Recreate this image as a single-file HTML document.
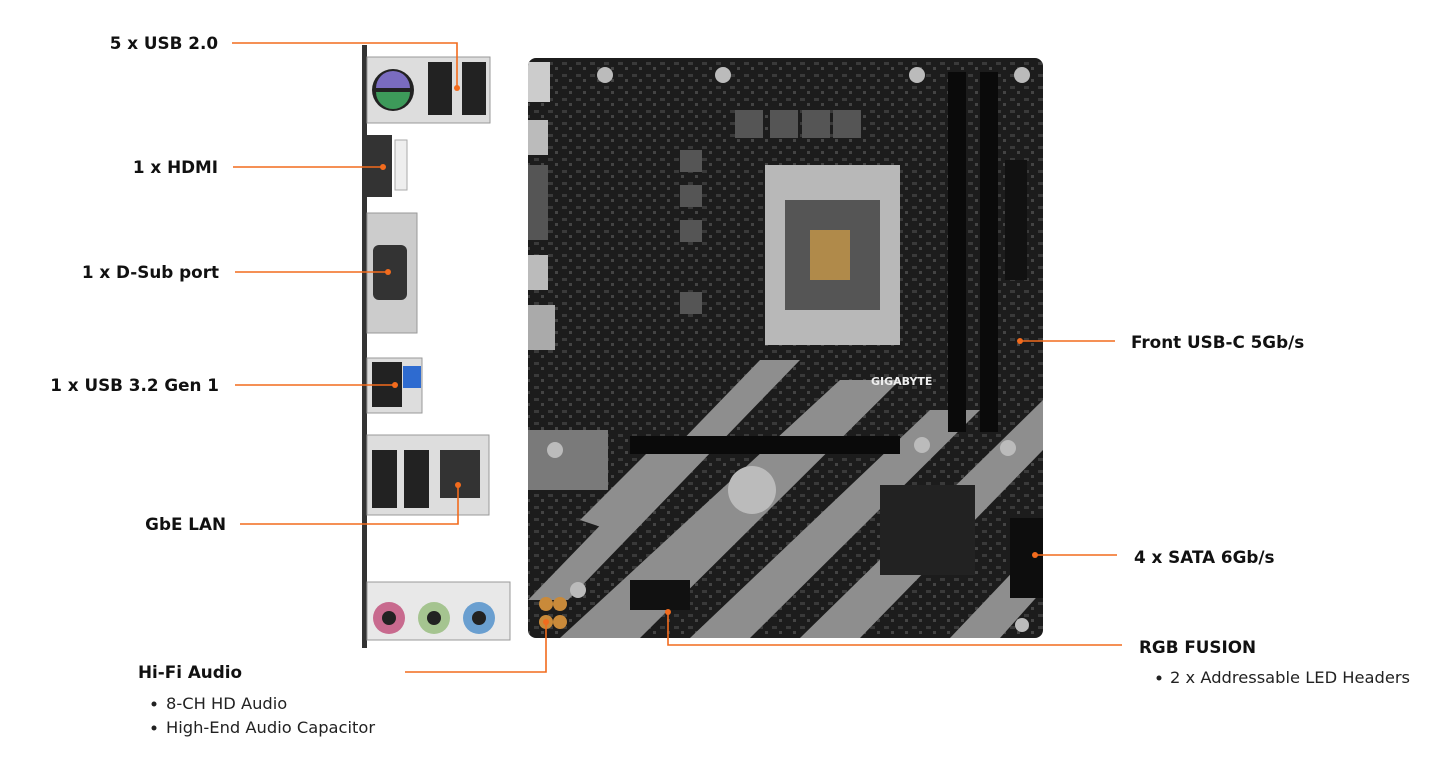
<!DOCTYPE html>
<html><head><meta charset="utf-8"><style>
html,body{margin:0;padding:0;background:#fff;width:1441px;height:770px;overflow:hidden}
svg{display:block}
text{font-family:"DejaVu Sans",sans-serif}
.lb{font-weight:bold;font-size:16.8px;fill:#111}
.sm{font-size:16.3px;fill:#222}
.o{stroke:#f26b1d;stroke-width:1.6;fill:none}
</style></head><body>
<svg width="1441" height="770" viewBox="0 0 1441 770">
<defs>
<clipPath id="bd"><rect x="528" y="58" width="515" height="580" rx="8"/></clipPath>
<pattern id="dots" width="14" height="12" patternUnits="userSpaceOnUse"><rect x="2" y="2" width="5" height="3" fill="#3a3a3a"/><rect x="9" y="7" width="3" height="3" fill="#444"/></pattern>
</defs>
<!-- IO shield -->
<rect x="362" y="45" width="5" height="603" fill="#333"/>
<rect x="367" y="57" width="123" height="66" fill="#ddd" stroke="#999"/>
<circle cx="393" cy="90" r="21" fill="#222"/>
<path d="M376 88 a17 17 0 0 1 34 0z" fill="#7a6cc0"/><path d="M376 92 a17 17 0 0 0 34 0z" fill="#3d9a5a"/>
<rect x="428" y="62" width="24" height="53" fill="#222"/><rect x="462" y="62" width="24" height="53" fill="#222"/>
<rect x="367" y="135" width="25" height="62" fill="#333"/><rect x="395" y="140" width="12" height="50" fill="#eee" stroke="#aaa"/>
<rect x="367" y="213" width="50" height="120" fill="#ccc" stroke="#999"/>
<rect x="373" y="245" width="34" height="55" rx="6" fill="#333"/>
<rect x="367" y="358" width="55" height="55" fill="#ddd" stroke="#999"/>
<rect x="372" y="362" width="30" height="45" fill="#222"/><rect x="403" y="366" width="18" height="22" fill="#2e6bd0"/>
<rect x="367" y="435" width="122" height="80" fill="#ddd" stroke="#999"/>
<rect x="372" y="450" width="25" height="58" fill="#222"/><rect x="404" y="450" width="25" height="58" fill="#222"/><rect x="440" y="450" width="40" height="48" fill="#333"/>
<rect x="367" y="582" width="143" height="58" fill="#e8e8e8" stroke="#999"/>
<circle cx="389" cy="618" r="16" fill="#c86a8e"/><circle cx="389" cy="618" r="7" fill="#222"/>
<circle cx="434" cy="618" r="16" fill="#a5c490"/><circle cx="434" cy="618" r="7" fill="#222"/>
<circle cx="479" cy="618" r="16" fill="#6a9fd0"/><circle cx="479" cy="618" r="7" fill="#222"/>
<!-- board -->
<g clip-path="url(#bd)">
<rect x="528" y="58" width="515" height="580" fill="#1c1c1c"/>
<rect x="528" y="58" width="515" height="580" fill="url(#dots)"/>
<g fill="#8e8e8e">
<polygon points="528,600 760,360 800,360 568,600"/>
<polygon points="560,638 840,380 900,380 640,638"/>
<polygon points="690,638 930,410 980,410 750,638"/>
<polygon points="800,638 1043,400 1043,450 860,638"/>
<polygon points="950,638 1043,540 1043,590 1000,638"/>
<polygon points="580,520 650,450 690,450 610,530"/>
<rect x="528" y="430" width="80" height="60" fill="#7a7a7a"/>
</g>
<rect x="515" y="62" width="35" height="40" fill="#ccc"/>
<rect x="518" y="120" width="30" height="35" fill="#bbb"/>
<rect x="508" y="165" width="40" height="75" fill="#555"/>
<rect x="518" y="255" width="30" height="35" fill="#bbb"/>
<rect x="515" y="305" width="40" height="45" fill="#aaa"/>
<g fill="#555"><rect x="735" y="110" width="28" height="28"/><rect x="770" y="110" width="28" height="28"/><rect x="802" y="110" width="28" height="28"/><rect x="833" y="110" width="28" height="28"/>
<rect x="680" y="150" width="22" height="22"/><rect x="680" y="185" width="22" height="22"/><rect x="680" y="220" width="22" height="22"/><rect x="680" y="292" width="22" height="22"/></g>
<g fill="#bbb"><circle cx="605" cy="75" r="8"/><circle cx="723" cy="75" r="8"/><circle cx="917" cy="75" r="8"/><circle cx="1022" cy="75" r="8"/><circle cx="555" cy="450" r="8"/><circle cx="922" cy="445" r="8"/><circle cx="1008" cy="448" r="8"/><circle cx="1022" cy="625" r="7"/><circle cx="578" cy="590" r="8"/></g>
<rect x="765" y="165" width="135" height="180" fill="#b8b8b8"/>
<rect x="785" y="200" width="95" height="110" fill="#555"/>
<rect x="810" y="230" width="40" height="50" fill="#b08a4a"/>
<rect x="948" y="72" width="18" height="360" fill="#0a0a0a"/><rect x="980" y="72" width="18" height="360" fill="#0a0a0a"/>
<rect x="1005" y="160" width="22" height="120" fill="#111"/>
<rect x="630" y="436" width="270" height="18" fill="#0a0a0a"/>
<circle cx="752" cy="490" r="24" fill="#bbb"/>
<rect x="880" y="485" width="95" height="90" fill="#222"/>
<rect x="1010" y="518" width="35" height="80" fill="#0d0d0d"/>
<rect x="630" y="580" width="60" height="30" fill="#111"/>
<text x="871" y="385" font-size="11" font-weight="bold" fill="#eee">GIGABYTE</text>
<g fill="#c98a3a"><circle cx="546" cy="604" r="7"/><circle cx="560" cy="604" r="7"/><circle cx="546" cy="622" r="7"/><circle cx="560" cy="622" r="7"/></g>
</g>
<!-- lines -->
<path class="o" d="M232 43H457V88"/><circle cx="457" cy="88" r="3" fill="#f26b1d"/>
<path class="o" d="M233 167H383"/><circle cx="383" cy="167" r="3" fill="#f26b1d"/>
<path class="o" d="M235 272H388"/><circle cx="388" cy="272" r="3" fill="#f26b1d"/>
<path class="o" d="M235 385H395"/><circle cx="395" cy="385" r="3" fill="#f26b1d"/>
<path class="o" d="M240 524H458V485"/><circle cx="458" cy="485" r="3" fill="#f26b1d"/>
<path class="o" d="M405 672H546V622"/><circle cx="546" cy="622" r="3" fill="#f26b1d"/>
<path class="o" d="M668 612V645H1122"/><circle cx="668" cy="612" r="3" fill="#f26b1d"/>
<path class="o" d="M1020 341H1115"/><circle cx="1020" cy="341" r="3" fill="#f26b1d"/>
<path class="o" d="M1035 555H1117"/><circle cx="1035" cy="555" r="3" fill="#f26b1d"/>
<!-- labels -->
<text class="lb" x="218" y="49" text-anchor="end">5 x USB 2.0</text>
<text class="lb" x="218" y="173" text-anchor="end">1 x HDMI</text>
<text class="lb" x="219" y="278" text-anchor="end">1 x D-Sub port</text>
<text class="lb" x="219" y="391" text-anchor="end">1 x USB 3.2 Gen 1</text>
<text class="lb" x="226" y="530" text-anchor="end">GbE LAN</text>
<text class="lb" x="138" y="678">Hi-Fi Audio</text>
<circle cx="154" cy="704" r="2.5" fill="#222"/><text class="sm" x="166" y="709">8-CH HD Audio</text>
<circle cx="154" cy="728" r="2.5" fill="#222"/><text class="sm" x="166" y="733">High-End Audio Capacitor</text>
<text class="lb" x="1131" y="348">Front USB-C 5Gb/s</text>
<text class="lb" x="1134" y="563">4 x SATA 6Gb/s</text>
<text class="lb" x="1139" y="653">RGB FUSION</text>
<circle cx="1159" cy="678" r="2.5" fill="#222"/><text class="sm" x="1170" y="683">2 x Addressable LED Headers</text>
</svg>
</body></html>
